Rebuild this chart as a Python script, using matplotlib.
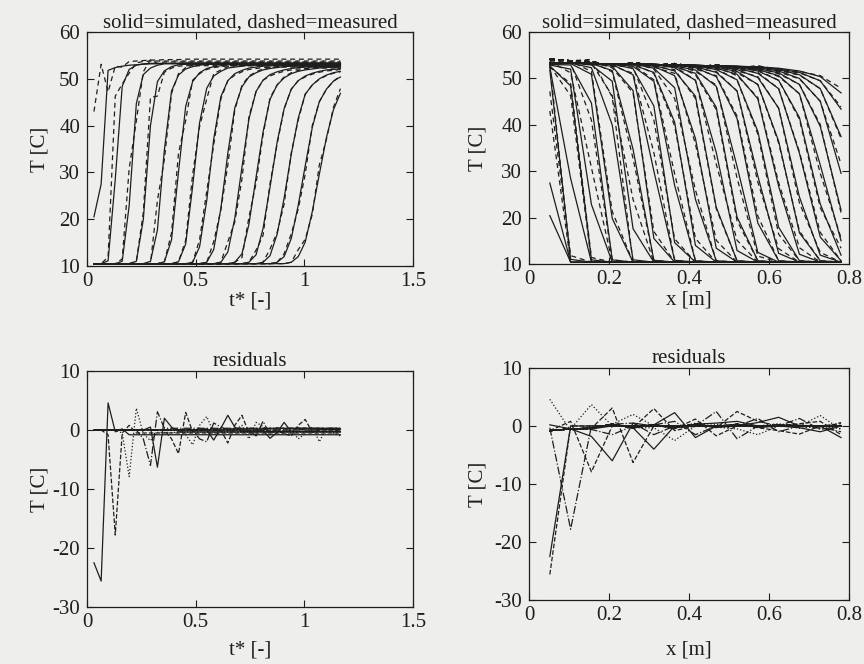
import numpy as np
import matplotlib
matplotlib.use("Agg")
import matplotlib.pyplot as plt

# ---------------- data ----------------
t_star = [0.032, 0.065, 0.097, 0.130, 0.162, 0.194, 0.227, 0.259, 0.292, 0.324,
          0.356, 0.389, 0.421, 0.454, 0.486, 0.518, 0.551, 0.583, 0.616, 0.648,
          0.680, 0.713, 0.745, 0.778, 0.810, 0.842, 0.875, 0.907, 0.940, 0.972,
          1.004, 1.037, 1.069, 1.102, 1.134, 1.166]

x_pos = [0.052, 0.104, 0.156, 0.208, 0.260, 0.312, 0.364, 0.416, 0.468, 0.520,
         0.572, 0.624, 0.676, 0.728, 0.780]

# simulated temperature, one list per sensor (over t_star)
sim_s1 = [20.5, 27.5, 51.8, 52.4, 52.7, 52.9, 53.0, 53.1, 53.2, 53.2, 53.3, 53.3,
          53.3, 53.4, 53.4, 53.4, 53.4, 53.4, 53.4, 53.4, 53.4, 53.4, 53.4, 53.4,
          53.4, 53.4, 53.4, 53.4, 53.4, 53.4, 53.4, 53.4, 53.4, 53.4, 53.4, 53.4]
sim_s2 = [10.5, 10.5, 11.1, 28.5, 48.4, 52.0, 52.9, 53.2, 53.3, 53.3, 53.3, 53.3,
          53.3, 53.3, 53.3, 53.3, 53.3, 53.3, 53.3, 53.3, 53.3, 53.3, 53.3, 53.3,
          53.3, 53.3, 53.3, 53.3, 53.3, 53.3, 53.3, 53.3, 53.3, 53.3, 53.3, 53.3]
sim_s3 = [10.5, 10.5, 10.5, 10.5, 11.0, 22.9, 44.7, 50.9, 52.3, 52.9, 53.2, 53.2,
          53.2, 53.2, 53.2, 53.2, 53.2, 53.2, 53.2, 53.2, 53.2, 53.2, 53.2, 53.2,
          53.2, 53.2, 53.2, 53.2, 53.2, 53.2, 53.2, 53.2, 53.2, 53.2, 53.2, 53.2]
sim_s4 = [10.5, 10.5, 10.5, 10.5, 10.5, 10.5, 11.0, 19.9, 40.0, 49.4, 51.7, 52.6,
          53.0, 53.1, 53.1, 53.1, 53.1, 53.1, 53.1, 53.1, 53.1, 53.1, 53.1, 53.1,
          53.1, 53.1, 53.1, 53.1, 53.1, 53.1, 53.1, 53.1, 53.1, 53.1, 53.1, 53.1]
sim_s5 = [10.5, 10.5, 10.5, 10.5, 10.5, 10.5, 10.5, 10.5, 11.0, 17.7, 34.8, 47.4,
          50.8, 52.1, 52.6, 52.9, 53.1, 53.1, 53.1, 53.1, 53.1, 53.1, 53.1, 53.1,
          53.1, 53.1, 53.1, 53.1, 53.1, 53.1, 53.1, 53.1, 53.1, 53.1, 53.1, 53.1]
sim_s6 = [10.5, 10.5, 10.5, 10.5, 10.5, 10.5, 10.5, 10.5, 10.5, 10.5, 10.9, 15.6,
          30.1, 44.1, 49.4, 51.3, 52.2, 52.6, 52.8, 53.0, 53.0, 53.0, 53.0, 53.0,
          53.0, 53.0, 53.0, 53.0, 53.0, 53.0, 53.0, 53.0, 53.0, 53.0, 53.0, 53.0]
sim_s7 = [10.5, 10.5, 10.5, 10.5, 10.5, 10.5, 10.5, 10.5, 10.5, 10.5, 10.5, 10.5,
          10.9, 14.7, 27.0, 40.6, 48.0, 50.6, 51.6, 52.3, 52.5, 52.7, 52.9, 52.9,
          52.9, 52.9, 52.9, 52.9, 52.9, 52.9, 52.9, 52.9, 52.9, 52.9, 52.9, 52.9]
sim_s8 = [10.5, 10.5, 10.5, 10.5, 10.5, 10.5, 10.5, 10.5, 10.5, 10.5, 10.5, 10.5,
          10.5, 10.5, 10.8, 14.1, 24.0, 37.1, 46.2, 49.6, 51.1, 51.8, 52.3, 52.5,
          52.7, 52.8, 52.8, 52.8, 52.8, 52.8, 52.8, 52.8, 52.8, 52.8, 52.8, 52.8]
sim_s9 = [10.5, 10.5, 10.5, 10.5, 10.5, 10.5, 10.5, 10.5, 10.5, 10.5, 10.5, 10.5,
          10.5, 10.5, 10.5, 10.5, 10.8, 13.5, 22.3, 34.1, 43.8, 48.3, 50.4, 51.3,
          51.9, 52.2, 52.4, 52.6, 52.7, 52.7, 52.7, 52.7, 52.7, 52.7, 52.7, 52.7]
sim_s10 = [10.5, 10.5, 10.5, 10.5, 10.5, 10.5, 10.5, 10.5, 10.5, 10.5, 10.5, 10.5,
           10.5, 10.5, 10.5, 10.5, 10.5, 10.5, 10.8, 13.0, 20.2, 31.1, 41.4, 47.3,
           49.7, 50.9, 51.5, 51.9, 52.2, 52.4, 52.5, 52.6, 52.6, 52.6, 52.6, 52.6]
sim_s11 = [10.5, 10.5, 10.5, 10.5, 10.5, 10.5, 10.5, 10.5, 10.5, 10.5, 10.5, 10.5,
           10.5, 10.5, 10.5, 10.5, 10.5, 10.5, 10.5, 10.5, 10.8, 12.6, 18.9, 29.0,
           38.6, 45.6, 48.7, 50.2, 51.1, 51.6, 51.9, 52.1, 52.3, 52.4, 52.5, 52.5]
sim_s12 = [10.5, 10.5, 10.5, 10.5, 10.5, 10.5, 10.5, 10.5, 10.5, 10.5, 10.5, 10.5,
           10.5, 10.5, 10.5, 10.5, 10.5, 10.5, 10.5, 10.5, 10.5, 10.5, 10.8, 12.4,
           18.0, 26.8, 36.5, 43.6, 47.8, 49.6, 50.6, 51.2, 51.6, 51.9, 52.0, 52.2]
sim_s13 = [10.5, 10.5, 10.5, 10.5, 10.5, 10.5, 10.5, 10.5, 10.5, 10.5, 10.5, 10.5,
           10.5, 10.5, 10.5, 10.5, 10.5, 10.5, 10.5, 10.5, 10.5, 10.5, 10.5, 10.5,
           10.8, 12.2, 16.8, 24.5, 33.9, 41.6, 46.7, 48.7, 50.0, 50.8, 51.3, 51.6]
sim_s14 = [10.5, 10.5, 10.5, 10.5, 10.5, 10.5, 10.5, 10.5, 10.5, 10.5, 10.5, 10.5,
           10.5, 10.5, 10.5, 10.5, 10.5, 10.5, 10.5, 10.5, 10.5, 10.5, 10.5, 10.5,
           10.5, 10.5, 10.8, 12.0, 15.9, 23.0, 31.4, 39.7, 45.1, 47.8, 49.5, 50.4]
sim_s15 = [10.5, 10.5, 10.5, 10.5, 10.5, 10.5, 10.5, 10.5, 10.5, 10.5, 10.5, 10.5,
           10.5, 10.5, 10.5, 10.5, 10.5, 10.5, 10.5, 10.5, 10.5, 10.5, 10.5, 10.5,
           10.5, 10.5, 10.5, 10.5, 10.8, 12.0, 15.1, 21.7, 29.6, 37.5, 43.4, 46.9]

sim_by_sensor = [sim_s1, sim_s2, sim_s3, sim_s4, sim_s5, sim_s6, sim_s7, sim_s8,
                 sim_s9, sim_s10, sim_s11, sim_s12, sim_s13, sim_s14, sim_s15]

# residual (simulated - measured) once a sensor has reached the hot plateau
plateau_residual = [-0.8, -0.5, -0.4, 0.3, -0.3, 0.2, -0.3, 0.3,
                    -0.2, 0.3, -0.2, 0.2, 0.1, -0.2, 0.1]

# residuals around the passing front: sensor -> {time index (1-based): value}
front_residual = {
    1: {1: -22.5, 2: -25.6, 3: 4.6, 4: -0.3, 5: 0.2},
    2: {3: -0.8, 4: -17.8, 5: -0.5, 6: 0.8, 9: -0.5},
    3: {5: -0.5, 6: -7.9, 7: 3.7, 8: -0.6, 9: -1.8},
    4: {8: -1.5, 9: -6.0, 10: 3.1, 11: 0.3},
    5: {9: 0.5, 10: -6.3, 11: 2.0, 12: 0.5, 13: -0.3},
    6: {12: -1.5, 13: -4.0, 14: 3.0, 15: -0.3},
    7: {14: -0.8, 15: -2.5, 16: 0.8, 17: 2.3, 18: -0.5},
    8: {16: -1.5, 17: -2.0, 18: 1.2, 19: 0.5},
    9: {18: -1.7, 19: 0.3, 20: 2.5, 21: 0.5, 22: -0.3},
    10: {20: -2.2, 21: 0.8, 22: 2.5, 23: -0.5},
    11: {22: 0.8, 23: -1.5, 24: 1.3, 25: 0.6, 26: -0.3},
    12: {24: -1.0, 25: 1.5, 26: -0.8, 27: 0.4},
    13: {26: -1.4, 27: -0.4, 28: 1.3, 29: -0.3, 30: 0.4},
    14: {28: -0.6, 29: -1.0, 30: 0.8, 31: 1.8, 32: -0.4},
    15: {30: -1.5, 31: -0.6, 32: 0.6, 33: -2.0, 34: 0.4, 35: -0.5, 36: -1.0},
}

t_ticks = [0, 0.5, 1, 1.5]
t_ticklabels = ["0", "0.5", "1", "1.5"]
x_ticks = [0, 0.2, 0.4, 0.6, 0.8]
x_ticklabels = ["0", "0.2", "0.4", "0.6", "0.8"]
T_ticks = [10, 20, 30, 40, 50, 60]
R_ticks = [-30, -20, -10, 0, 10]

title_top = "solid=simulated, dashed=measured"
title_bottom = "residuals"

# ---------------- assemble arrays ----------------
t = np.array(t_star)
x = np.array(x_pos)
sim = np.array(sim_by_sensor)          # (sensor, time)
res = np.zeros_like(sim)
for j in range(sim.shape[0]):
    res[j, sim[j] >= 50] = plateau_residual[j]
    for k, v in front_residual[j + 1].items():
        res[j, k - 1] = v
meas = sim - res

# ---------------- style ----------------
plt.rcParams["font.family"] = ["Liberation Serif", "DejaVu Serif"]
plt.rcParams["axes.unicode_minus"] = False
bg = "#eeeeec"
ink = "#1e1e1e"
FS = 15
LW = 0.9
DASH = (4, 3)
styles = ["-", "--", ":", "-."]

fig = plt.figure(figsize=(8.64, 6.64), dpi=100, facecolor=bg)
ax_tl = fig.add_axes([0.1007, 0.5994, 0.3773, 0.3524])
ax_tr = fig.add_axes([0.6123, 0.6017, 0.3704, 0.3502])
ax_bl = fig.add_axes([0.1007, 0.0858, 0.3773, 0.3554])
ax_br = fig.add_axes([0.6123, 0.0964, 0.3704, 0.3494])


def style(ax, xt, xtl, xlim, yt, ylim, xlabel, title, xl_y, yl_x):
    ax.set_facecolor(bg)
    ax.set_xlim(*xlim)
    ax.set_ylim(*ylim)
    ax.set_xticks(xt)
    ax.set_xticklabels(xtl)
    ax.set_yticks(yt)
    ax.set_yticklabels([str(v) for v in yt])
    ax.tick_params(direction="in", top=True, right=True, length=5, width=0.8,
                   labelsize=FS, colors=ink)
    ax.tick_params(axis="x", pad=4)
    ax.tick_params(axis="y", pad=5)
    for s in ax.spines.values():
        s.set_color(ink)
        s.set_linewidth(0.9)
    ax.set_xlabel(xlabel, fontsize=FS, color=ink)
    ax.xaxis.label.set_verticalalignment("baseline")
    ax.xaxis.set_label_coords(0.5, xl_y)
    ax.set_ylabel("T [C]", fontsize=FS, color=ink)
    ax.yaxis.label.set_verticalalignment("center")
    ax.yaxis.set_label_coords(yl_x, 0.5)
    ax.set_title(title, fontsize=FS, color=ink, pad=3.5)


# top-left: temperature vs t*
for j in range(sim.shape[0]):
    ax_tl.plot(t, sim[j], "-", color=ink, lw=LW)
    ax_tl.plot(t, meas[j], color=ink, lw=LW, dashes=DASH)
style(ax_tl, t_ticks, t_ticklabels, (0, 1.5), T_ticks, (10, 60),
      "t* [-]", title_top, -0.167, -0.144)

# top-right: temperature profiles vs x
for k in range(sim.shape[1]):
    ax_tr.plot(x, sim[:, k], "-", color=ink, lw=LW)
    ax_tr.plot(x, meas[:, k], color=ink, lw=LW, dashes=DASH)
style(ax_tr, x_ticks, x_ticklabels, (0, 0.8), T_ticks, (10, 60),
      "x [m]", title_top, -0.174, -0.159)

# bottom-left: residuals vs t*
for j in range(res.shape[0]):
    ax_bl.plot(t, res[j], linestyle=styles[j % 4], color=ink, lw=LW)
style(ax_bl, t_ticks, t_ticklabels, (0, 1.5), R_ticks, (-30, 10),
      "t* [-]", title_bottom, -0.203, -0.144)

# bottom-right: residuals vs x
for k in range(res.shape[1]):
    ax_br.plot(x, res[:, k], linestyle=styles[k % 4], color=ink, lw=LW)
style(ax_br, x_ticks, x_ticklabels, (0, 0.8), R_ticks, (-30, 10),
      "x [m]", title_bottom, -0.233, -0.159)

fig.savefig("out.png", dpi=100, facecolor=bg)
